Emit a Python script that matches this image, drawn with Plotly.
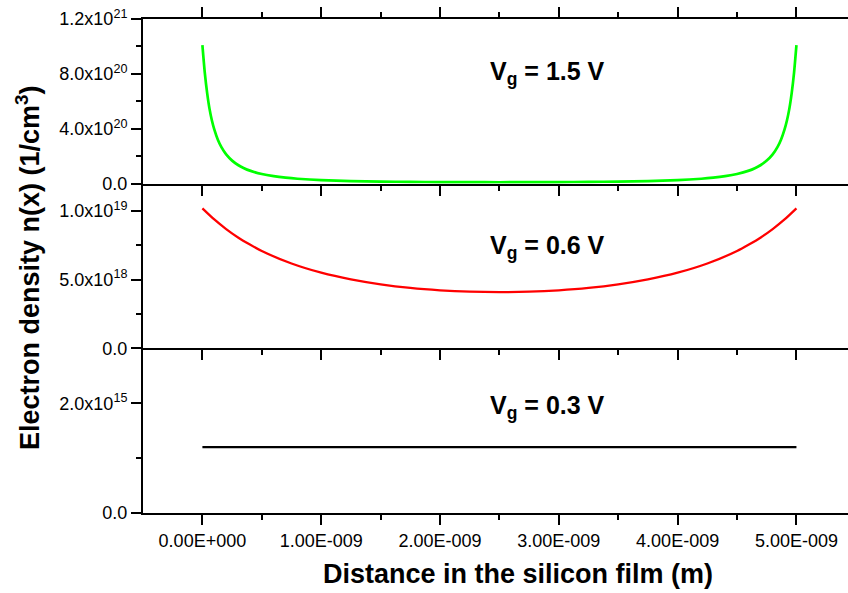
import plotly.graph_objects as go

# ---------------- data ----------------
# green curve (Vg = 1.5 V): distance (nm) and electron density (1/cm^3)
x_nm_green = [0.0, 0.02, 0.04, 0.06, 0.08, 0.10, 0.13, 0.16, 0.20, 0.25, 0.30, 0.35, 0.40, 0.50,
              0.60, 0.70, 0.80, 1.00, 1.25, 1.50, 1.75, 2.00, 2.25, 2.50,
              2.75, 3.00, 3.25, 3.50, 3.75, 4.00, 4.20, 4.30, 4.40, 4.50, 4.60, 4.65, 4.70,
              4.75, 4.80, 4.84, 4.87, 4.90, 4.92, 4.94, 4.96, 4.98, 5.0]
n_green = [1.01e21, 8.1e20, 6.6e20, 5.45e20, 4.6e20, 3.95e20, 3.2e20, 2.66e20, 2.13e20, 1.68e20,
           1.36e20, 1.13e20, 9.5e19, 7.0e19, 5.44e19, 4.35e19, 3.58e19, 2.59e19, 1.91e19, 1.52e19,
           1.28e19, 1.15e19, 1.07e19, 1.05e19,
           1.07e19, 1.15e19, 1.28e19, 1.52e19, 1.91e19, 2.59e19, 3.58e19, 4.35e19, 5.44e19, 7.0e19,
           9.5e19, 1.13e20, 1.36e20, 1.68e20, 2.13e20, 2.66e20, 3.2e20, 3.95e20, 4.6e20, 5.45e20,
           6.6e20, 8.1e20, 1.01e21]

# red curve (Vg = 0.6 V)
x_nm_red = [0.0, 0.10, 0.20, 0.30, 0.40, 0.50, 0.75, 1.00, 1.25, 1.50, 1.75, 2.00, 2.25, 2.50,
            2.75, 3.00, 3.25, 3.50, 3.75, 4.00, 4.25, 4.50, 4.60, 4.70, 4.80, 4.90, 5.0]
n_red = [1.02e19, 9.39e18, 8.69e18, 8.08e18, 7.56e18, 7.09e18, 6.18e18, 5.51e18, 5.02e18, 4.66e18,
         4.40e18, 4.23e18, 4.13e18, 4.1e18,
         4.13e18, 4.23e18, 4.40e18, 4.66e18, 5.02e18, 5.51e18, 6.18e18, 7.09e18, 7.56e18, 8.08e18,
         8.69e18, 9.39e18, 1.02e19]

# black curve (Vg = 0.3 V)
x_nm_black = [0.0, 1.0, 2.0, 3.0, 4.0, 5.0]
n_black = [1.2e15, 1.2e15, 1.2e15, 1.2e15, 1.2e15, 1.2e15]

labels = ["V<sub>g</sub> = 1.5 V", "V<sub>g</sub> = 0.6 V", "V<sub>g</sub> = 0.3 V"]

x_tickvals = [0.0, 1e-9, 2e-9, 3e-9, 4e-9, 5e-9]
x_ticktext = ["0.00E+000", "1.00E-009", "2.00E-009", "3.00E-009", "4.00E-009", "5.00E-009"]
x_minor = [0.5e-9, 1.5e-9, 2.5e-9, 3.5e-9, 4.5e-9]

top_tickvals = [0.0, 4e20, 8e20, 1.2e21]
top_ticktext = ["0.0", "4.0x10<sup>20</sup>", "8.0x10<sup>20</sup>", "1.2x10<sup>21</sup>"]
top_minor = [2e20, 6e20, 1e21]

mid_tickvals = [0.0, 5e18, 1e19]
mid_ticktext = ["0.0", "5.0x10<sup>18</sup>", "1.0x10<sup>19</sup>"]
mid_minor = [2.5e18, 7.5e18]

bot_tickvals = [0.0, 2e15]
bot_ticktext = ["0.0", "2.0x10<sup>15</sup>"]
bot_minor = [1e15, 3e15]

FONT = "Arial, Liberation Sans, sans-serif"

def nm(v):
    return [a * 1e-9 for a in v]

fig = go.Figure()
fig.add_trace(go.Scatter(x=nm(x_nm_green), y=n_green, mode="lines",
                         line=dict(color="#00FF00", width=2.7, shape="spline", smoothing=0.6),
                         xaxis="x", yaxis="y", showlegend=False))
fig.add_trace(go.Scatter(x=nm(x_nm_red), y=n_red, mode="lines",
                         line=dict(color="#FF0000", width=2.3, shape="spline", smoothing=0.6),
                         xaxis="x2", yaxis="y2", showlegend=False))
fig.add_trace(go.Scatter(x=nm(x_nm_black), y=n_black, mode="lines",
                         line=dict(color="#000000", width=2.3),
                         xaxis="x3", yaxis="y3", showlegend=False))

xrange = [-0.5e-9, 5.434e-9]

def xaxis(domain_anchor, labels_on, mirror):
    return dict(range=xrange, anchor=domain_anchor, showline=True, linecolor="black", linewidth=2,
                mirror=mirror, ticks="outside", ticklen=10, tickwidth=2, tickcolor="black",
                tickvals=x_tickvals, ticktext=x_ticktext, showticklabels=labels_on,
                tickfont=dict(family=FONT, size=18, color="black"),
                minor=dict(tickvals=x_minor, ticks="outside", ticklen=5, tickwidth=2, tickcolor="black"),
                showgrid=False, zeroline=False)

def yaxis(domain, rng, tv, tt, mv, anchor):
    return dict(domain=domain, range=rng, anchor=anchor, showline=True, linecolor="black", linewidth=2,
                ticks="outside", ticklen=10, tickwidth=2, tickcolor="black",
                tickvals=tv, ticktext=tt, tickfont=dict(family=FONT, size=18, color="black"),
                minor=dict(tickvals=mv, ticks="outside", ticklen=5, tickwidth=2, tickcolor="black"),
                showgrid=False, zeroline=False)

fig.update_layout(
    width=848, height=593,
    margin=dict(l=143, r=0, t=19, b=80),
    paper_bgcolor="white", plot_bgcolor="white",
    xaxis=xaxis("y", False, "ticks"),
    xaxis2=xaxis("y2", False, False),
    xaxis3=xaxis("y3", True, False),
    yaxis=yaxis([2/3, 1.0], [0, 1.2e21], top_tickvals, top_ticktext, top_minor, "x"),
    yaxis2=yaxis([1/3, 2/3], [0, 1.2e19], mid_tickvals, mid_ticktext, mid_minor, "x2"),
    yaxis3=yaxis([0.0, 1/3], [0, 3e15], bot_tickvals, bot_ticktext, bot_minor, "x3"),
)
fig.update_layout(xaxis2=dict(matches="x"), xaxis3=dict(matches="x"))

# annotation positions in paper coords
ann_y = [0.8947, 0.5435, 0.2186]
for txt, yy in zip(labels, ann_y):
    fig.add_annotation(text="<b>" + txt + "</b>", xref="paper", yref="paper", x=(547 - 143) / 705, y=yy,
                       xanchor="center", yanchor="middle", showarrow=False, yshift=-2,
                       font=dict(family=FONT, size=25, color="black"))

fig.add_annotation(text="<b>Distance in the silicon film (m)</b>", xref="paper", yref="paper",
                   x=(518 - 143) / 705, y=-(574 - 513) / 494, xanchor="center", yanchor="middle",
                   showarrow=False, font=dict(family=FONT, size=27, color="black"))
fig.add_annotation(text="<b>Electron density n(x) (1/cm<sup>3</sup>)</b>", xref="paper", yref="paper",
                   x=(28 - 143) / 705, y=(513 - 268) / 494, xanchor="center", yanchor="middle",
                   textangle=-90, showarrow=False, font=dict(family=FONT, size=27, color="black"))

fig.write_html("out.html")
